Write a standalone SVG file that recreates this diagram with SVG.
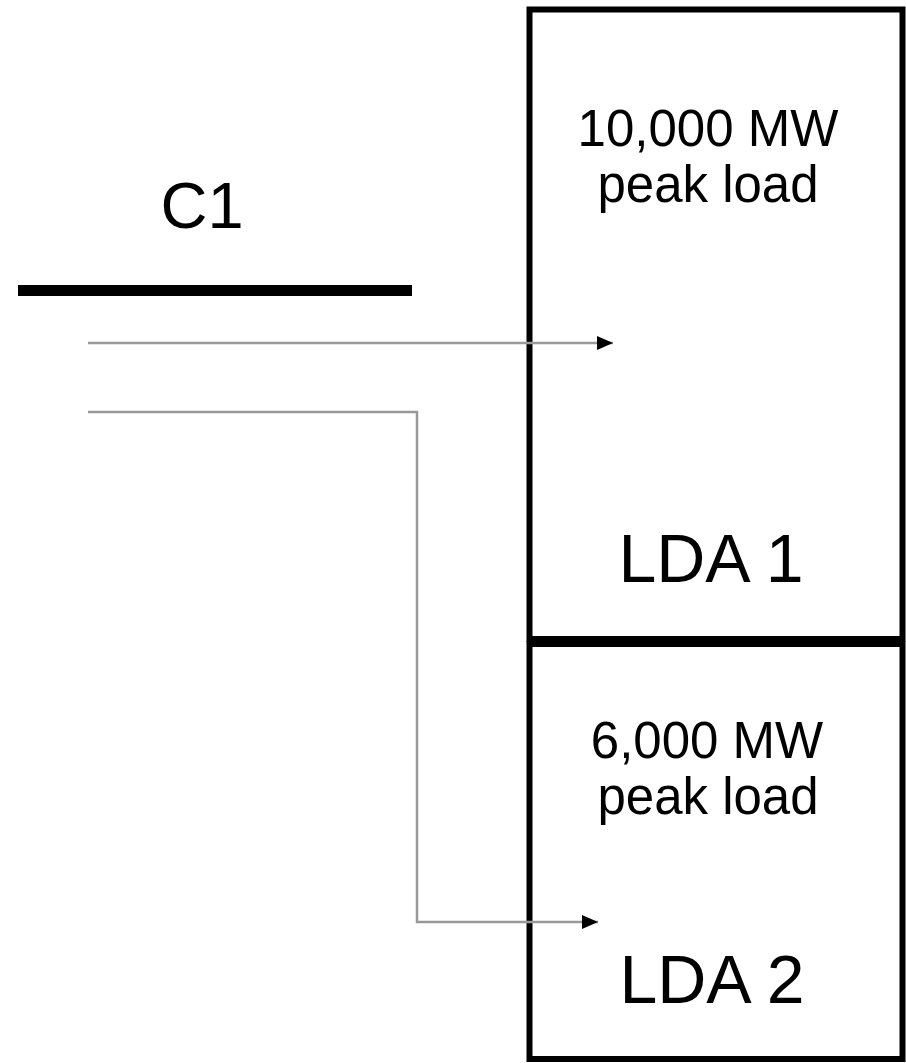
<svg xmlns="http://www.w3.org/2000/svg" width="906" height="1063" viewBox="0 0 906 1063">
<style>
.box{fill:#fff;stroke:#000;stroke-width:6}
.t{font-family:"Liberation Sans",Arial,sans-serif;fill:#000;text-anchor:middle}
.lbl{font-size:51px}
.lda{font-size:68px}
.conn{fill:none;stroke:#999;stroke-width:2.5}
</style>
<defs>
<marker id="ah" markerWidth="16" markerHeight="14" refX="16" refY="7" orient="auto" markerUnits="userSpaceOnUse">
<path d="M0,0 L16,7 L0,14 Z" fill="#000"/>
</marker>
</defs>
<rect width="906" height="1063" fill="#fff"/>
<g id="C1">
<rect x="18" y="285" width="394" height="11" fill="#000"/>
<text class="t" x="202" y="228" font-size="65px">C1</text>
</g>
<g id="LDA1">
<rect class="box" x="529.5" y="9.5" width="373" height="629.5"/>
<text class="t lbl" x="708" y="146">10,000 MW</text>
<text class="t lbl" x="708" y="202">peak load</text>
<text class="t lda" x="711" y="582">LDA 1</text>
</g>
<g id="LDA2">
<rect class="box" x="529.5" y="644" width="373" height="415"/>
<text class="t lbl" x="707" y="758">6,000 MW</text>
<text class="t lbl" x="708" y="814">peak load</text>
<text class="t lda" x="712" y="1003">LDA 2</text>
</g>
<g id="connectors">
<path class="conn" d="M88,343 H613" marker-end="url(#ah)"/>
<path class="conn" d="M88,412 H417 V922 H598" marker-end="url(#ah)"/>
</g>
</svg>
